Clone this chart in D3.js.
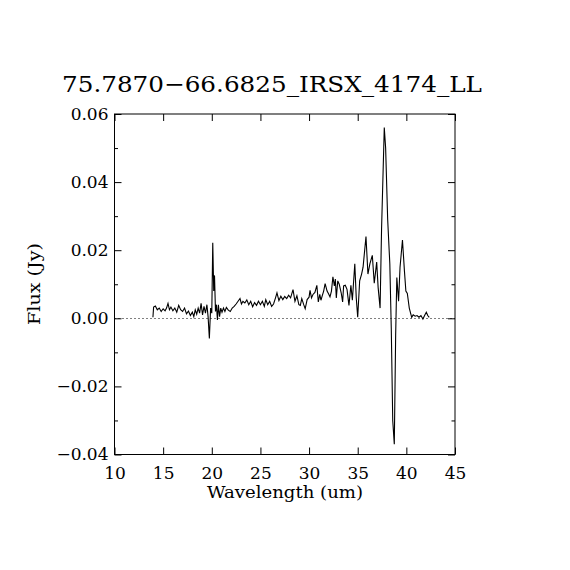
<!DOCTYPE html>
<html>
<head>
<meta charset="utf-8">
<script src="https://cdn.jsdelivr.net/npm/d3@7"></script>
<style>
  body { margin: 0; background: #fff; }
  svg { display: block; }
  .tick text { font-family: "DejaVu Serif", serif; font-size: 17px; fill: #000; }
</style>
</head>
<body>
<svg id="chart" width="570" height="570"></svg>
<script>
var titleText = "75.7870\u221266.6825_IRSX_4174_LL";
var xLabel = "Wavelength (um)";
var yLabel = "Flux (Jy)";

var xTicks = [10, 15, 20, 25, 30, 35, 40, 45];
var yTicks = [-0.04, -0.02, 0.00, 0.02, 0.04, 0.06];
var yMinorTicks = [-0.03, -0.01, 0.01, 0.03, 0.05];

var wavelength = [13.95, 14.02, 14.2, 14.4, 14.6, 14.8, 15.0, 15.2, 15.35, 15.5, 15.65, 15.8, 16.0, 16.2, 16.4, 16.6, 16.8,
  17.0, 17.2, 17.4, 17.6, 17.8, 18.0, 18.15, 18.3, 18.45, 18.6, 18.75, 18.9, 19.05, 19.2, 19.35, 19.5, 19.62, 19.75, 19.88,
  20.0, 20.1, 20.2, 20.28, 20.38, 20.48, 20.58, 20.68, 20.8, 20.92, 21.05, 21.2, 21.35, 21.5, 21.7, 21.9, 22.1, 22.3, 22.5,
  22.7, 22.9, 23.05, 23.2, 23.4, 23.6, 23.8, 24.0, 24.2, 24.4, 24.6, 24.8, 25.0, 25.2, 25.4, 25.55, 25.75, 25.95, 26.15,
  26.35, 26.55, 26.7, 26.9, 27.1, 27.3, 27.5, 27.7, 27.9, 28.1, 28.35, 28.55, 28.75, 28.95, 29.1, 29.25, 29.45, 29.6, 29.8,
  30.0, 30.1, 30.25, 30.4, 30.6, 30.8, 30.95, 31.1, 31.22, 31.35, 31.5, 31.65, 31.85, 32.0, 32.15, 32.3, 32.45, 32.6, 32.7,
  32.8, 32.95, 33.1, 33.3, 33.45, 33.55, 33.72, 33.9, 34.1, 34.3, 34.45, 34.7, 34.85, 35.0, 35.2, 35.4, 35.55, 35.85, 36.05,
  36.25, 36.5, 36.7, 36.95, 37.1, 37.3, 37.45, 37.73, 37.87, 38.08, 38.3, 38.45, 38.6, 38.76, 38.9, 39.02, 39.2, 39.35, 39.6,
  39.8, 39.95, 40.1, 40.3, 40.55, 40.7, 40.9, 41.1, 41.3, 41.5, 41.7, 41.9, 42.05, 42.2, 42.35];

var flux = [0.0003, 0.0033, 0.0036, 0.0025, 0.0030, 0.0020, 0.0028, 0.0022, 0.0030, 0.0044, 0.0025, 0.0033, 0.0022, 0.0030, 0.0018, 0.0038, 0.0025,
  0.0020, 0.0030, 0.0013, 0.0021, 0.0008, 0.0018, 0.0005, 0.0025, 0.0012, 0.0030, 0.0015, 0.0044, 0.0010, 0.0035, 0.0015, 0.0040, 0.0005, -0.0059, 0.0030,
  0.0015, 0.0222, 0.0080, 0.0126, 0.0020, 0.0040, -0.0005, 0.0040, 0.0005, 0.0030, 0.0018, 0.0030, 0.0020, 0.0032, 0.0024, 0.0020, 0.0030, 0.0035, 0.0042,
  0.0050, 0.0058, 0.0042, 0.0050, 0.0045, 0.0054, 0.0040, 0.0050, 0.0034, 0.0046, 0.0038, 0.0050, 0.0040, 0.0050, 0.0035, 0.0055, 0.0040, 0.0050, 0.0035,
  0.0042, 0.0060, 0.0075, 0.0052, 0.0065, 0.0055, 0.0064, 0.0058, 0.0068, 0.0060, 0.0084, 0.0050, 0.0066, 0.0040, 0.0038, 0.0058, 0.0040, 0.0028, 0.0055,
  0.0062, 0.0082, 0.0060, 0.0070, 0.0076, 0.0097, 0.0048, 0.0070, 0.0053, 0.0066, 0.0080, 0.0102, 0.0080, 0.0072, 0.0063, 0.0080, 0.0122, 0.0095, 0.0115,
  0.0060, 0.0110, 0.0100, 0.0075, 0.0048, 0.0095, 0.0097, 0.0085, 0.0038, 0.0097, 0.0053, 0.0160, 0.0060, 0.0003, 0.0110, 0.0130, 0.0150, 0.0240, 0.0130,
  0.0160, 0.0185, 0.0103, 0.0165, 0.0090, 0.0030, 0.0260, 0.0560, 0.0500, 0.0290, 0.0160, -0.0030, -0.0300, -0.0370, -0.0050, 0.0120, 0.0050, 0.0150, 0.0230,
  0.0140, 0.0080, 0.0073, 0.0030, 0.0003, 0.0010, 0.0006, 0.0008, 0.0003, 0.0008, -0.0002, 0.0010, 0.0018, 0.0008, 0.0003];

var plotLeft = 114.5, plotRight = 455, plotTop = 114, plotBottom = 454.5;

var svg = d3.select("#chart");

var x = d3.scaleLinear().domain([10, 45]).range([plotLeft, plotRight]);
var y = d3.scaleLinear().domain([-0.04, 0.06]).range([plotBottom, plotTop]);

// zero line
svg.append("line")
  .attr("x1", x(10)).attr("x2", x(45))
  .attr("y1", Math.round(y(0)) + 0.5).attr("y2", Math.round(y(0)) + 0.5)
  .attr("stroke", "#000").attr("stroke-width", 1)
  .attr("stroke-dasharray", "1,3");

// spectrum
var points = wavelength.map(function(d, i){ return [d, flux[i]]; });
var line = d3.line().x(function(d){ return x(d[0]); }).y(function(d){ return y(d[1]); });
svg.append("path")
  .attr("d", line(points))
  .attr("fill", "none")
  .attr("stroke", "#000")
  .attr("stroke-width", 1.1);

// axes, ticks pointing inward
var xAxisBottom = d3.axisBottom(x).tickValues(xTicks).tickSize(-7).tickPadding(12).tickFormat(d3.format("d"));
var xAxisTop = d3.axisTop(x).tickValues(xTicks).tickSize(-7).tickFormat("");
var yAxisLeft = d3.axisLeft(y).tickValues(yTicks).tickSize(-7).tickPadding(6).tickFormat(d3.format(".2f"));
var yAxisRight = d3.axisRight(y).tickValues(yTicks).tickSize(-7).tickFormat("");
var yMinorLeft = d3.axisLeft(y).tickValues(yMinorTicks).tickSize(-3.5).tickFormat("");
var yMinorRight = d3.axisRight(y).tickValues(yMinorTicks).tickSize(-3.5).tickFormat("");

svg.append("g").attr("transform", "translate(0," + plotBottom + ")").call(xAxisBottom);
svg.append("g").attr("transform", "translate(0," + plotTop + ")").call(xAxisTop);
svg.append("g").attr("transform", "translate(" + plotLeft + ",0)").call(yAxisLeft);
svg.append("g").attr("transform", "translate(" + plotRight + ",0)").call(yAxisRight);
svg.append("g").attr("transform", "translate(" + plotLeft + ",0)").call(yMinorLeft);
svg.append("g").attr("transform", "translate(" + plotRight + ",0)").call(yMinorRight);

svg.selectAll(".domain").remove();
svg.selectAll(".tick line").attr("stroke", "#000");

// frame
svg.append("rect")
  .attr("x", plotLeft).attr("y", plotTop)
  .attr("width", plotRight - plotLeft).attr("height", plotBottom - plotTop)
  .attr("fill", "none").attr("stroke", "#000").attr("stroke-width", 1);

// texts
svg.append("text")
  .attr("x", 272).attr("y", 92)
  .attr("text-anchor", "middle")
  .attr("textLength", 420).attr("lengthAdjust", "spacingAndGlyphs")
  .style("font-family", "DejaVu Serif, serif").style("font-size", "23px")
  .text(titleText);

svg.append("text")
  .attr("x", 285).attr("y", 498)
  .attr("text-anchor", "middle")
  .attr("textLength", 156).attr("lengthAdjust", "spacingAndGlyphs")
  .style("font-family", "DejaVu Serif, serif").style("font-size", "17px")
  .text(xLabel);

svg.append("text")
  .attr("transform", "translate(40,284) rotate(-90)")
  .attr("text-anchor", "middle")
  .attr("textLength", 82).attr("lengthAdjust", "spacingAndGlyphs")
  .style("font-family", "DejaVu Serif, serif").style("font-size", "17px")
  .text(yLabel);
</script>
</body>
</html>
